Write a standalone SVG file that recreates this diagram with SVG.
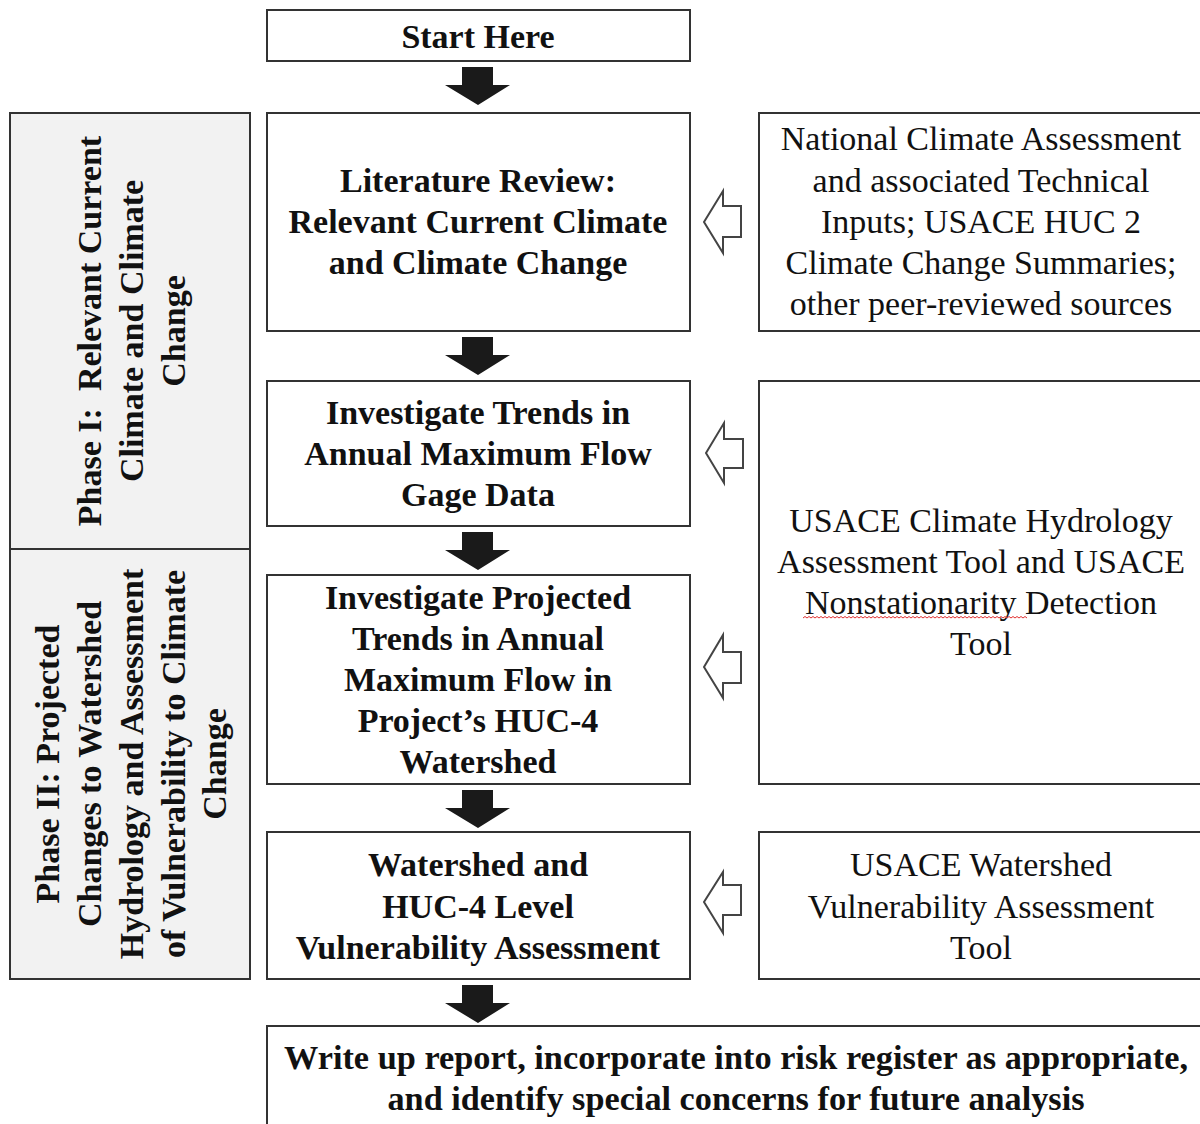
<svg xmlns="http://www.w3.org/2000/svg" width="1200" height="1124" viewBox="0 0 1200 1124">
<defs>
<style>
.box{fill:#fff;stroke:#333;stroke-width:2}
.phase{fill:#f2f2f2;stroke:#333;stroke-width:2}
.b{font-family:"Liberation Serif","Times New Roman",serif;font-weight:bold;font-size:34px;fill:#111;text-anchor:middle}
.r{font-family:"Liberation Serif","Times New Roman",serif;font-size:34px;fill:#111;text-anchor:middle}
.fa{fill:#1a1a1a;stroke:none}
.oa{fill:#fff;stroke:#444;stroke-width:2;stroke-linejoin:miter}
</style>
<polygon id="down" class="fa" points="-16,0 15,0 15,18 32,18 0,38 -33,18 -16,18"/>
</defs>
<rect width="1200" height="1124" fill="#fff"/>

<g id="phase1">
<rect class="phase" x="10" y="113" width="240" height="436"/>
<g transform="translate(0,331) rotate(-90)">
<text class="b" x="0" y="101" xml:space="preserve">Phase I:  Relevant Current</text>
<text class="b" x="0" y="143">Climate and Climate</text>
<text class="b" x="0" y="185">Change</text>
</g>
</g>
<g id="phase2">
<rect class="phase" x="10" y="549" width="240" height="430"/>
<g transform="translate(0,764) rotate(-90)">
<text class="b" x="0" y="59">Phase II: Projected</text>
<text class="b" x="0" y="101">Changes to Watershed</text>
<text class="b" x="0" y="143">Hydrology and Assessment</text>
<text class="b" x="0" y="185">of Vulnerability to Climate</text>
<text class="b" x="0" y="226">Change</text>
</g>
</g>

<g id="start">
<rect class="box" x="267" y="10" width="423" height="51"/>
<text class="b" x="478" y="48">Start Here</text>
</g>
<g id="literature">
<rect class="box" x="267" y="113" width="423" height="218"/>
<text class="b" x="478" y="192">Literature Review:</text>
<text class="b" x="478" y="233">Relevant Current Climate</text>
<text class="b" x="478" y="274">and Climate Change</text>
</g>
<g id="trends">
<rect class="box" x="267" y="381" width="423" height="145"/>
<text class="b" x="478" y="424">Investigate Trends in</text>
<text class="b" x="478" y="465">Annual Maximum Flow</text>
<text class="b" x="478" y="506">Gage Data</text>
</g>
<g id="projected">
<rect class="box" x="267" y="575" width="423" height="209"/>
<text class="b" x="478" y="609">Investigate Projected</text>
<text class="b" x="478" y="650">Trends in Annual</text>
<text class="b" x="478" y="691">Maximum Flow in</text>
<text class="b" x="478" y="732">Project’s HUC-4</text>
<text class="b" x="478" y="773">Watershed</text>
</g>
<g id="vulnerability">
<rect class="box" x="267" y="832" width="423" height="147"/>
<text class="b" x="478" y="876">Watershed and</text>
<text class="b" x="478" y="918">HUC-4 Level</text>
<text class="b" x="478" y="959">Vulnerability Assessment</text>
</g>
<g id="report">
<rect class="box" x="267" y="1026" width="1000" height="120"/>
<text class="b" x="736" y="1069" textLength="904" lengthAdjust="spacingAndGlyphs">Write up report, incorporate into risk register as appropriate,</text>
<text class="b" x="736" y="1110" textLength="697" lengthAdjust="spacingAndGlyphs">and identify special concerns for future analysis</text>
</g>

<g id="nca">
<rect class="box" x="759" y="113" width="500" height="218"/>
<text class="r" x="981" y="150">National Climate Assessment</text>
<text class="r" x="981" y="192">and associated Technical</text>
<text class="r" x="981" y="233">Inputs; USACE HUC 2</text>
<text class="r" x="981" y="274">Climate Change Summaries;</text>
<text class="r" x="981" y="315">other peer-reviewed sources</text>
</g>
<g id="tools">
<rect class="box" x="759" y="381" width="500" height="403"/>
<text class="r" x="981" y="532">USACE Climate Hydrology</text>
<text class="r" x="981" y="573">Assessment Tool and USACE</text>
<text class="r" x="981" y="614">Nonstationarity Detection</text>
<text class="r" x="981" y="655">Tool</text>
<path d="M803,618 l2,-1.5 l2,1.5 l2,-1.5 l2,1.5 l2,-1.5 l2,1.5 l2,-1.5 l2,1.5 l2,-1.5 l2,1.5 l2,-1.5 l2,1.5 l2,-1.5 l2,1.5 l2,-1.5 l2,1.5 l2,-1.5 l2,1.5 l2,-1.5 l2,1.5 l2,-1.5 l2,1.5 l2,-1.5 l2,1.5 l2,-1.5 l2,1.5 l2,-1.5 l2,1.5 l2,-1.5 l2,1.5 l2,-1.5 l2,1.5 l2,-1.5 l2,1.5 l2,-1.5 l2,1.5 l2,-1.5 l2,1.5 l2,-1.5 l2,1.5 l2,-1.5 l2,1.5 l2,-1.5 l2,1.5 l2,-1.5 l2,1.5 l2,-1.5 l2,1.5 l2,-1.5 l2,1.5 l2,-1.5 l2,1.5 l2,-1.5 l2,1.5 l2,-1.5 l2,1.5 l2,-1.5 l2,1.5 l2,-1.5 l2,1.5 l2,-1.5 l2,1.5 l2,-1.5 l2,1.5 l2,-1.5 l2,1.5 l2,-1.5 l2,1.5 l2,-1.5 l2,1.5 l2,-1.5 l2,1.5 l2,-1.5 l2,1.5 l2,-1.5 l2,1.5 l2,-1.5 l2,1.5 l2,-1.5 l2,1.5 l2,-1.5 l2,1.5 l2,-1.5 l2,1.5 l2,-1.5 l2,1.5 l2,-1.5 l2,1.5 l2,-1.5 l2,1.5 l2,-1.5 l2,1.5 l2,-1.5 l2,1.5 l2,-1.5 l2,1.5 l2,-1.5 l2,1.5 l2,-1.5 l2,1.5 l2,-1.5 l2,1.5 l2,-1.5 l2,1.5 l2,-1.5 l2,1.5 l2,-1.5 l2,1.5 l2,-1.5 l2,1.5 l2,-1.5 l2,1.5" fill="none" stroke="#e03030" stroke-width="1"/>
</g>
<g id="wvat">
<rect class="box" x="759" y="832" width="500" height="147"/>
<text class="r" x="981" y="876">USACE Watershed</text>
<text class="r" x="981" y="918">Vulnerability Assessment</text>
<text class="r" x="981" y="959">Tool</text>
</g>

<g id="connectors">
<use href="#down" x="478" y="67"/>
<use href="#down" x="478" y="337"/>
<use href="#down" x="478" y="532"/>
<use href="#down" x="478" y="790"/>
<use href="#down" x="478" y="985"/>
<polygon class="oa" points="704,222 723,191 723,206 741,206 741,237 723,237 723,253"/>
<polygon class="oa" points="706,453 724,423 724,439 743,439 743,468 724,468 724,483"/>
<polygon class="oa" points="704,667 723,635 723,652 741,652 741,683 723,683 723,698"/>
<polygon class="oa" points="704,902 723,872 723,885 741,885 741,915 723,915 723,933"/>
</g>
</svg>
